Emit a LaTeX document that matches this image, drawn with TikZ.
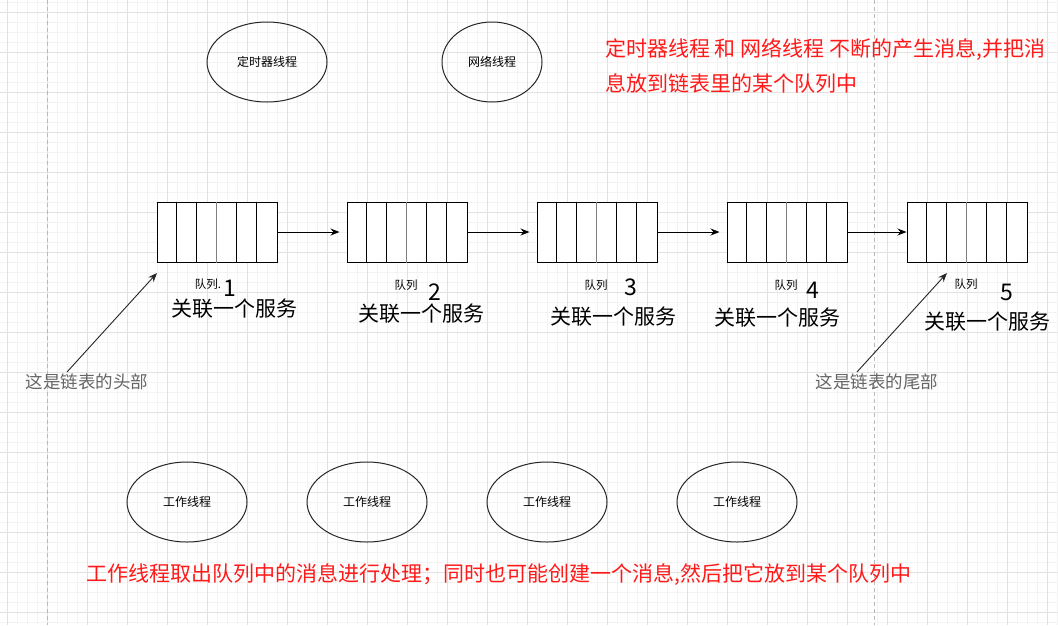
\documentclass[tikz,border=0pt]{standalone}
\usepackage{fontspec}
\setmainfont{Noto Sans CJK SC}
\usetikzlibrary{arrows.meta,shapes.geometric}
\definecolor{minorgrid}{HTML}{F3F3F3}
\definecolor{majorgrid}{HTML}{E2E2E2}
\definecolor{pageline}{HTML}{B8B8B8}
\definecolor{notegray}{HTML}{666666}
\definecolor{notered}{HTML}{FF1A1A}
\tikzset{
  thread/.style={ellipse, draw=black!85, line width=1pt, minimum width=120pt,
    minimum height=80pt, inner sep=0pt, font=\fontsize{12}{14}\selectfont},
  queuebox/.style={draw=black, line width=1pt, minimum width=120pt,
    minimum height=60pt, inner sep=0pt, fill=white},
  link/.style={draw=black, line width=1pt, -{Stealth[length=9pt,width=7pt]}},
  pointer/.style={draw=black!85, line width=0.9pt, -{Stealth[length=9pt,width=7pt]}},
  qword/.style={inner sep=0pt, font=\fontsize{11.5}{13}\selectfont},
  qnum/.style={inner sep=0pt, font=\fontsize{23}{26}\selectfont},
  qserv/.style={inner sep=0pt, font=\fontsize{21}{24}\selectfont},
  graynote/.style={inner sep=0pt, text=notegray, font=\fontsize{17.5}{20}\selectfont},
  rednote/.style={inner sep=0pt, text=notered, anchor=west},
}
\begin{document}
\begin{tikzpicture}[x=1pt,y=-1pt]
\useasboundingbox (0,0) rectangle (1058,625);
\fill[white] (0,0) rectangle (1058,625);
% grid
\foreach \x in {7,17,...,1057} \draw[minorgrid, line width=0.8pt] (\x,0) -- (\x,625);
\foreach \y in {2,12,...,622} \draw[minorgrid, line width=0.8pt] (0,\y) -- (1058,\y);
\foreach \x in {7,47,...,1057} \draw[majorgrid, line width=0.8pt] (\x,0) -- (\x,625);
\foreach \y in {12,52,...,622} \draw[majorgrid, line width=0.8pt] (0,\y) -- (1058,\y);
\draw[pageline, line width=0.8pt, dash pattern=on 4pt off 3pt] (47,0) -- (47,625);
\draw[pageline, line width=0.8pt, dash pattern=on 4pt off 3pt] (874,0) -- (874,625);

% producer threads
\node[thread] (timer) at (267,62) {定时器线程};
\node[thread, minimum width=100pt] (net) at (492,62) {网络线程};
\node[rednote, font=\fontsize{21}{24}\selectfont] (topnote1) at (605,50) {定时器线程 和 网络线程 不断的产生消息,并把消};
\node[rednote, font=\fontsize{21}{24}\selectfont] (topnote2) at (605,83) {息放到链表里的某个队列中};

% queues
\foreach \n/\cx in {1/217,2/407,3/597,4/787,5/967}{
  \node[queuebox] (q\n) at (\cx,232) {};
  \foreach \i in {1,2,4,5}
    \draw[black, line width=1pt] ([xshift=\i*20pt]q\n.north west) -- ([xshift=\i*20pt]q\n.south west);
  \draw[black!50, line width=1.5pt] ([xshift=60pt]q\n.north west) -- ([xshift=60pt]q\n.south west);
}
\draw[link, shorten >=7pt] (q1) -- (q2);
\draw[link, shorten >=7pt] (q2) -- (q3);
\draw[link, shorten >=7pt] (q3) -- (q4);
\draw[link] (q4) -- (q5);

% queue labels
\node[qword] (w1) at (208,284) {队列.};
\node[qnum] (n1) at (230,288.5) {1};
\node[qserv] (s1) at (234,309) {关联一个服务};
\node[qword] (w2) at (406,285) {队列};
\node[qnum] (n2) at (435,292) {2};
\node[qserv] (s2) at (421,314) {关联一个服务};
\node[qword] (w3) at (596,285) {队列};
\node[qnum] (n3) at (631,287) {3};
\node[qserv] (s3) at (613,317) {关联一个服务};
\node[qword] (w4) at (786,285) {队列};
\node[qnum] (n4) at (813,290) {4};
\node[qserv] (s4) at (777,318) {关联一个服务};
\node[qword] (w5) at (966,284) {队列};
\node[qnum] (n5) at (1007,292) {5};
\node[qserv] (s5) at (987,322) {关联一个服务};

% head / tail pointers
\node[graynote] (head) at (87,382) {这是链表的头部};
\node[graynote] (tail) at (877,382) {这是链表的尾部};
\coordinate (headstart) at (67,372);
\coordinate (headend) at (157,273);
\coordinate (tailstart) at (857,372);
\coordinate (tailend) at (947,273);
\draw[pointer] (headstart) -- (headend);
\draw[pointer] (tailstart) -- (tailend);

% worker threads
\node[thread] (wk1) at (187,502) {工作线程};
\node[thread] (wk2) at (367,502) {工作线程};
\node[thread] (wk3) at (547,502) {工作线程};
\node[thread] (wk4) at (737,502) {工作线程};
\node[rednote, font=\fontsize{21}{24}\selectfont] (botnote) at (86,575) {工作线程取出队列中的消息进行处理；同时也可能创建一个消息,然后把它放到某个队列中};
\end{tikzpicture}
\end{document}
